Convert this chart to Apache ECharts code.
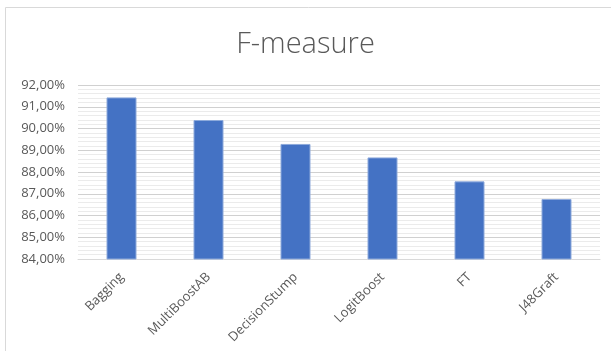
<!DOCTYPE html>
<html>
<head>
<meta charset="utf-8">
<script src="https://cdn.jsdelivr.net/npm/echarts@6/dist/echarts.min.js"></script>
<style>
  html, body { margin: 0; padding: 0; background: #fff; }
  #myChart { width: 611px; height: 351px; }
</style>
</head>
<body>
<div id="myChart"></div>
<script>
// 分类与数值
var categories = ['Bagging', 'MultiBoostAB', 'DecisionStump', 'LogitBoost', 'FT', 'J48Graft']
var fMeasure = [91.43, 90.39, 89.29, 88.67, 87.57, 86.76]

var myChart = echarts.init(document.getElementById('myChart'))
var option = {
  animation: false,
  title: {
    text: 'F-measure',
    left: 'center',
    top: 25,
    textStyle: {
      fontFamily: 'Open Sans',
      fontWeight: 300,
      fontSize: 29,
      color: '#595959'
    }
  },
  // 外框
  graphic: [{
    type: 'rect',
    shape: { x: 5.5, y: 7.5, width: 700, height: 500 },
    style: { fill: 'none', stroke: '#d9d9d9', lineWidth: 1 },
    silent: true
  }],
  grid: {
    left: 78,
    right: 11,
    top: 85,
    bottom: 92
  },
  xAxis: {
    type: 'category',
    data: categories,
    axisTick: { show: false },
    axisLine: { lineStyle: { color: '#d9d9d9', width: 1 } },
    axisLabel: {
      rotate: 45,
      fontFamily: 'Open Sans',
      fontSize: 13,
      color: '#595959',
      margin: 16
    }
  },
  yAxis: {
    type: 'value',
    min: 84,
    max: 92,
    interval: 1,
    axisLine: { show: false },
    axisTick: { show: false },
    axisLabel: {
      fontFamily: 'Open Sans',
      fontSize: 13,
      color: '#595959',
      margin: 13,
      formatter: function (v) {
        return v.toFixed(2).replace('.', ',') + '%'
      }
    },
    splitLine: { lineStyle: { color: '#d0d0d0', width: 1 } },
    minorTick: { show: false, splitNumber: 5 },
    minorSplitLine: { show: true, lineStyle: { color: '#ebebeb', width: 1 } }
  },
  series: [{
    type: 'bar',
    data: fMeasure,
    barWidth: 30,
    itemStyle: {
      color: '#4472c4',
      borderColor: '#8eaadb',
      borderWidth: 1
    }
  }]
}
myChart.setOption(option)
</script>
</body>
</html>
